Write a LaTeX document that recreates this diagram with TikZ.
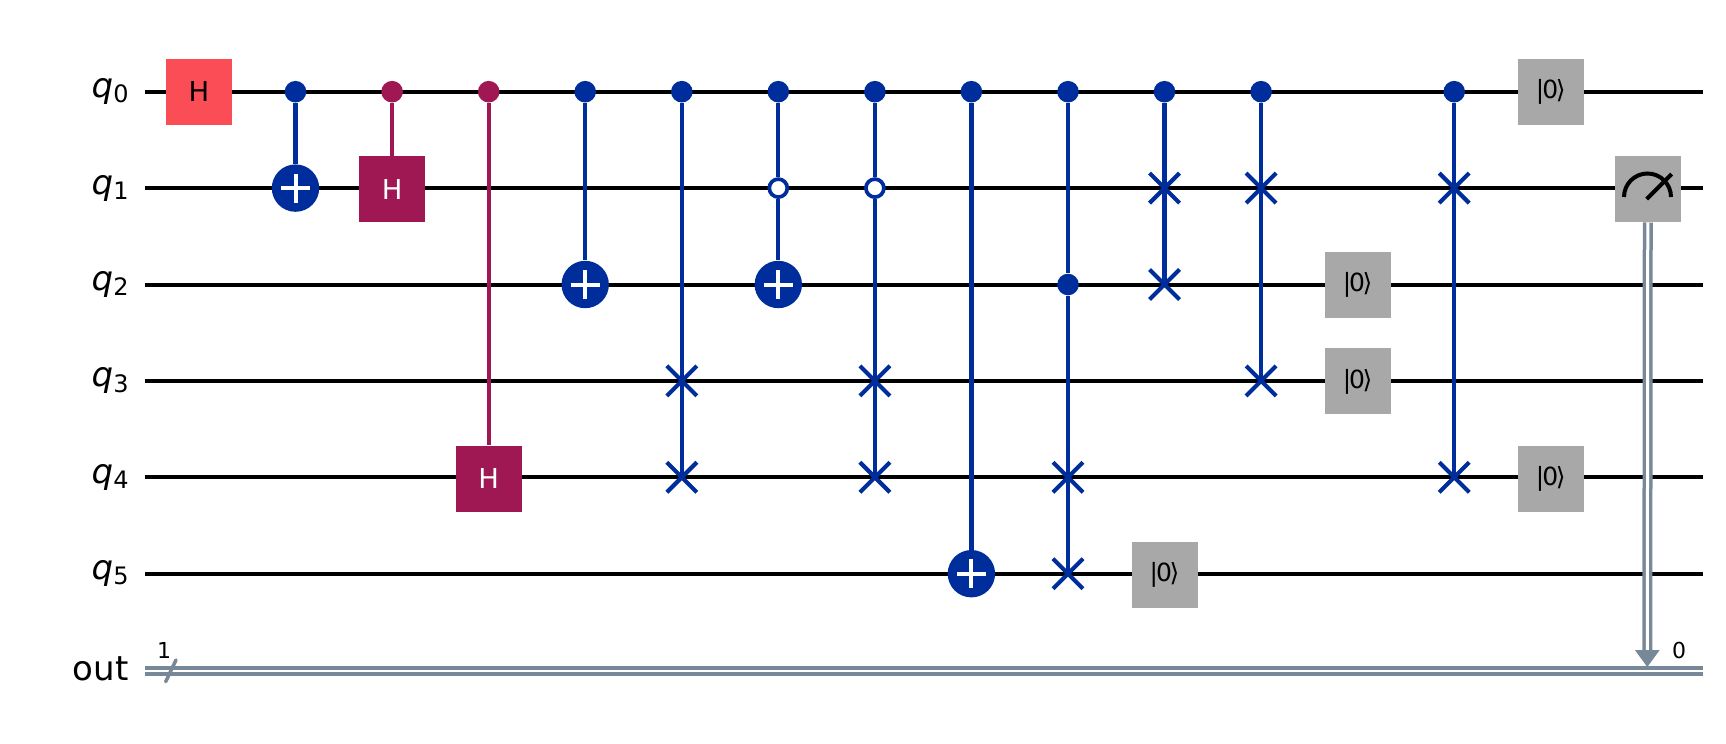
\documentclass[tikz,border=0pt]{standalone}
\usepackage{fontspec}
\setmainfont{DejaVu Sans}
\usetikzlibrary{shapes.misc,backgrounds,arrows.meta}
\definecolor{myblue}{HTML}{002D9C}
\definecolor{mypurple}{HTML}{9F1853}
\definecolor{myred}{HTML}{FA4D56}
\definecolor{mygray}{HTML}{A8A8A8}
\definecolor{myslate}{HTML}{778899}
\tikzset{
  wire/.style={black,line width=2pt},
  clwire/.style={myslate,line width=2pt,double=white,double distance=1pt},
  link/.style={line width=2.1pt},
  gate/.style={rectangle,minimum size=33pt,inner sep=0pt,font=\fontsize{13.7}{14}\selectfont},
  ketgate/.style={gate,fill=mygray,font=\fontsize{12.5}{14}\selectfont},
  dotctrl/.style={circle,fill=#1,minimum size=10.8pt,inner sep=0pt},
  openctrl/.style={circle,draw=myblue,fill=white,line width=1.85pt,minimum size=9pt,inner sep=0pt},
  plusgate/.style={circle,fill=myblue,minimum size=23.7pt,inner sep=0pt,
    path picture={\draw[white,line width=2pt]
      ([xshift=-7.25pt]path picture bounding box.center) -- ([xshift=7.25pt]path picture bounding box.center)
      ([yshift=-7.25pt]path picture bounding box.center) -- ([yshift=7.25pt]path picture bounding box.center);}},
  swapgate/.style={cross out,draw=myblue,line width=2.05pt,minimum size=15pt,inner sep=0pt,outer sep=0pt},
  wlabel/.style={anchor=east,inner sep=0pt,font=\fontsize{17}{18}\selectfont},
  nlabel/.style={font=\fontsize{11}{12}\selectfont}
}
\newcommand{\qlab}[1]{\textit{q}\raisebox{-2.6pt}{\fontsize{12}{12}\selectfont #1}}
\newcommand{\ketz}{|\kern-1pt0\kern-1.2pt⟩}

\begin{document}
\begin{tikzpicture}[x=0.5pt,y=-0.5pt]
  \useasboundingbox (0,0) rectangle (1726,744);

  \def\qa{91.7}
  \def\qb{188.1}
  \def\qc{284.5}
  \def\qd{380.9}
  \def\qe{477.3}
  \def\qf{573.7}
  \def\cl{670.7}

  % wire ends
  \coordinate (qal) at (145,\qa); \coordinate (qar) at (1703,\qa);
  \coordinate (qbl) at (145,\qb); \coordinate (qbr) at (1703,\qb);
  \coordinate (qcl) at (145,\qc); \coordinate (qcr) at (1703,\qc);
  \coordinate (qdl) at (145,\qd); \coordinate (qdr) at (1703,\qd);
  \coordinate (qel) at (145,\qe); \coordinate (qer) at (1703,\qe);
  \coordinate (qfl) at (145,\qf); \coordinate (qfr) at (1703,\qf);
  \coordinate (cll) at (145,\cl); \coordinate (clr) at (1703,\cl);

  % labels
  \node[wlabel] (lqa) at (129,\qa) {\qlab{0}};
  \node[wlabel] (lqb) at (129,\qb) {\qlab{1}};
  \node[wlabel] (lqc) at (129,\qc) {\qlab{2}};
  \node[wlabel] (lqd) at (129,\qd) {\qlab{3}};
  \node[wlabel] (lqe) at (129,\qe) {\qlab{4}};
  \node[wlabel] (lqf) at (129,\qf) {\qlab{5}};
  \node[wlabel] (lcl) at (129,\cl-2) {out};

  % single gates
  \node[gate,fill=myred] (ha) at (199,\qa) {H};
  \node[gate,fill=mypurple,text=white] (hb) at (392.1,\qb+1) {H};
  \node[gate,fill=mypurple,text=white] (hc) at (488.7,\qe+1.5) {H};

  % controls and targets
  \node[dotctrl=myblue] (ba) at (295.5,\qa) {};
  \node[plusgate] (bb) at (295.5,\qb) {};
  \node[dotctrl=mypurple] (ca) at (392.1,\qa) {};
  \node[dotctrl=mypurple] (da) at (488.7,\qa) {};
  \node[dotctrl=myblue] (ea) at (585.2,\qa) {};
  \node[plusgate] (ec) at (585.2,\qc) {};
  \node[dotctrl=myblue] (fa) at (681.8,\qa) {};
  \node[swapgate] (fd) at (681.8,\qd) {};
  \node[swapgate] (fe) at (681.8,\qe) {};
  \node[dotctrl=myblue] (ga) at (778.3,\qa) {};
  \node[openctrl] (gb) at (778.3,\qb) {};
  \node[plusgate] (gc) at (778.3,\qc) {};
  \node[dotctrl=myblue] (ja) at (874.9,\qa) {};
  \node[openctrl] (jb) at (874.9,\qb) {};
  \node[swapgate] (jd) at (874.9,\qd) {};
  \node[swapgate] (je) at (874.9,\qe) {};
  \node[dotctrl=myblue] (ka) at (971.4,\qa) {};
  \node[plusgate] (kf) at (971.4,\qf) {};
  \node[dotctrl=myblue] (la) at (1068,\qa) {};
  \node[dotctrl=myblue] (lc) at (1068,\qc) {};
  \node[swapgate] (le) at (1068,\qe) {};
  \node[swapgate] (lf) at (1068,\qf) {};
  \node[dotctrl=myblue] (ma) at (1164.5,\qa) {};
  \node[swapgate] (mb) at (1164.5,\qb) {};
  \node[swapgate] (mc) at (1164.5,\qc) {};
  \node[dotctrl=myblue] (na) at (1261.1,\qa) {};
  \node[swapgate] (nb) at (1261.1,\qb) {};
  \node[swapgate] (nd) at (1261.1,\qd) {};
  \node[dotctrl=myblue] (oa) at (1454.2,\qa) {};
  \node[swapgate] (ob) at (1454.2,\qb) {};
  \node[swapgate] (oe) at (1454.2,\qe) {};

  % resets
  \node[ketgate] (ra) at (1550.7,\qa) {\ketz};
  \node[ketgate] (rc) at (1357.6,\qc) {\ketz};
  \node[ketgate] (rd) at (1357.6,\qd+0.5) {\ketz};
  \node[ketgate] (re) at (1550.7,\qe+1.5) {\ketz};
  \node[ketgate] (rf) at (1164.5,\qf+1) {\ketz};

  % measure
  \node[gate,fill=mygray] (meas) at (1647.8,\qb+1) {};
  \draw[line width=2pt]
    (1624,197) arc[start angle=180,end angle=360,radius=23.5];
  \draw[line width=2pt]
    (1646.7,199) -- (1671.7,174);
  \coordinate (mtip) at (1647.3,667);

  % register tick and numbers
  \coordinate (ticka) at (165.7,681.7);
  \coordinate (tickb) at (176,660);
  \node[nlabel] (none) at (164,650) {1};
  \node[nlabel] (nzero) at (1679,650.5) {0};

  \begin{scope}[on background layer]
    % wires
    \draw[wire] (qal) -- (qar);
    \draw[wire] (qbl) -- (qbr);
    \draw[wire] (qcl) -- (qcr);
    \draw[wire] (qdl) -- (qdr);
    \draw[wire] (qel) -- (qer);
    \draw[wire] (qfl) -- (qfr);
    \draw[clwire] (cll) -- (clr);
    \draw[myslate,line width=1.75pt,line cap=round] (ticka) -- (tickb);

    % links
    \draw[link,myblue] (ba) -- (bb);
    \draw[link,mypurple] (ca) -- (hb);
    \draw[link,mypurple] (da) -- (hc);
    \draw[link,myblue] (ea) -- (ec);
    \draw[link,myblue] (fa) -- (fd.center) -- (fe.center);
    \draw[link,myblue] (ga) -- (gb) (gb) -- (gc);
    \draw[link,myblue] (ja) -- (jb) (jb) -- (jd.center) -- (je.center);
    \draw[link,myblue] (ka) -- (kf);
    \draw[link,myblue] (la) -- (lc) -- (le.center) -- (lf.center);
    \draw[link,myblue] (ma) -- (mb.center) -- (mc.center);
    \draw[link,myblue] (na) -- (nb.center) -- (nd.center);
    \draw[link,myblue] (oa) -- (ob.center) -- (oe.center);

    % measure wire
    \draw[clwire,line width=1.75pt,double distance=1.5pt,shorten >=8pt] (meas) -- (mtip);
    \fill[myslate] (mtip) -- ++(-12.4,-17) -- ++(24.8,0) -- cycle;
  \end{scope}

\end{tikzpicture}
\end{document}
